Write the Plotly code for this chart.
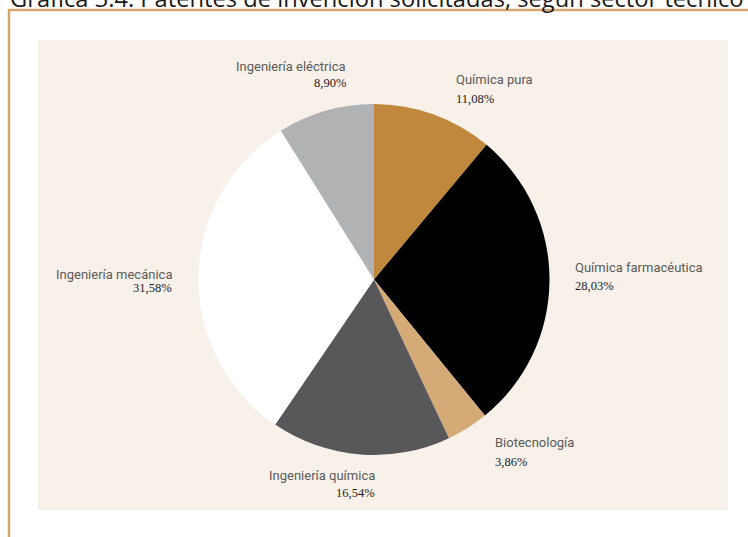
import plotly.graph_objects as go

W, H = 748, 537

sectores = ["Química pura", "Química farmacéutica", "Biotecnología",
            "Ingeniería química", "Ingeniería mecánica", "Ingeniería eléctrica"]
porcentajes = [11.08, 28.03, 3.86, 16.54, 31.58, 8.90]
etiquetas_pct = ["11,08%", "28,03%", "3,86%", "16,54%", "31,58%", "8,90%"]
colores = ["#C0883C", "#000000", "#D4AA77", "#58585A", "#FFFFFF", "#B1B2B4"]
titulo = "Gráfica 3.4. Patentes de invención solicitadas, según sector técnico"

# label placement (pixel), anchor side
label_pos = {
    "Química pura": (454, 79, 98.5, "left"),
    "Química farmacéutica": (573, 267.7, 285.7, "left"),
    "Biotecnología": (493, 442, 462.3, "left"),
    "Ingeniería química": (377, 475.5, 492.7, "right"),
    "Ingeniería mecánica": (174, 274.7, 288.3, "right"),
    "Ingeniería eléctrica": (348, 66.2, 82.7, "right"),
}

def px(x):
    return x / W

def py(y):
    return 1 - y / H

cx, cy, r = 374, 279.5, 175.5

fig = go.Figure()
fig.add_trace(go.Pie(
    labels=sectores, values=porcentajes, sort=False, direction="clockwise",
    rotation=0, marker=dict(colors=colores, line=dict(width=0)),
    textinfo="none", hoverinfo="label+percent", showlegend=False,
    domain=dict(x=[px(cx - r), px(cx + r)], y=[py(cy + r), py(cy - r)]),
))

shapes = [
    dict(type="rect", xref="paper", yref="paper", x0=px(38), x1=px(728),
         y0=py(510), y1=py(40), fillcolor="#F8F1EA", line=dict(width=0), layer="below"),
    dict(type="line", xref="paper", yref="paper", x0=px(9), x1=px(9),
         y0=py(10), y1=py(537), line=dict(color="#D4A66C", width=2.5)),
    dict(type="line", xref="paper", yref="paper", x0=px(8), x1=px(748),
         y0=py(10), y1=py(10), line=dict(color="#D4A66C", width=2.5)),
]

annotations = [dict(text=titulo, xref="paper", yref="paper", x=px(8), y=py(-1.5),
                    xanchor="left", yanchor="middle", showarrow=False,
                    font=dict(family="Open Sans", size=23.7, color="#1a1a1a"))]
for name, pct in zip(sectores, etiquetas_pct):
    x, yn, yp, side = label_pos[name]
    annotations.append(dict(text=name, xref="paper", yref="paper", x=px(x), y=py(yn),
                            xanchor=side, yanchor="middle", showarrow=False,
                            font=dict(family="Roboto", size=13, color="#5A5A5A")))
    annotations.append(dict(text=pct, xref="paper", yref="paper", x=px(x), y=py(yp),
                            xanchor=side, yanchor="middle", showarrow=False,
                            font=dict(family="Liberation Serif", size=12.5, color="#222222")))

fig.update_layout(
    width=W, height=H, margin=dict(l=0, r=0, t=0, b=0),
    paper_bgcolor="#FFFFFF", plot_bgcolor="#FFFFFF",
    shapes=shapes, annotations=annotations,
)

fig.write_html("out.html", config={"displayModeBar": False},
               post_script="document.body.style.margin='0';")
